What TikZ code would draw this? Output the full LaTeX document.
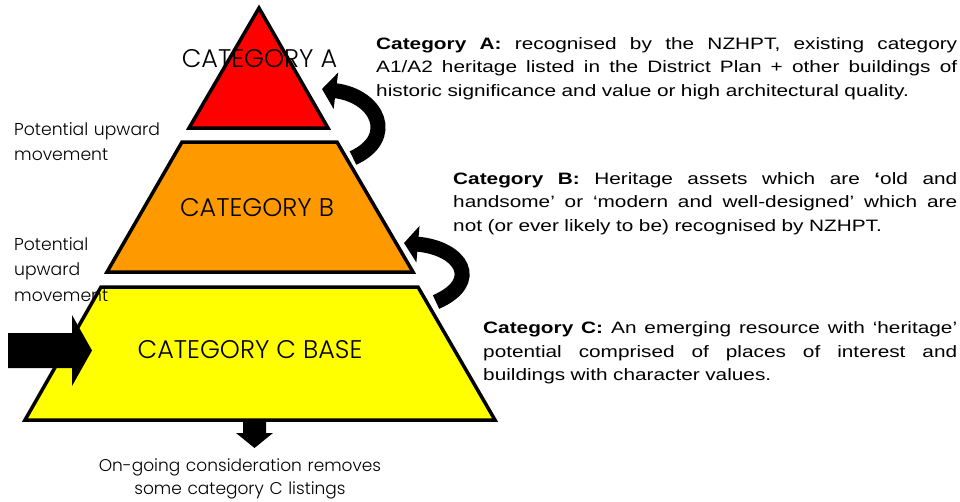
\documentclass[tikz,border=0pt]{standalone}
\usepackage{fontspec}
\setmainfont{Liberation Sans}[FakeStretch=1.26]
\newfontfamily\geofont{Poppins Light}
\usetikzlibrary{arrows.meta}
\definecolor{tierA}{HTML}{FF0000}
\definecolor{tierB}{HTML}{FF9900}
\definecolor{tierC}{HTML}{FFFF00}
% one justified line of a description, stretched to the given width
\newcommand{\fullline}[2]{\makebox[#1][s]{\spaceskip=0pt\xspaceskip=0pt #2}}
\begin{document}
\begin{tikzpicture}[x=1pt,y=-1pt,
  tier/.style={draw=black, line width=3.5pt, line join=miter},
  tiertitle/.style={font=\geofont\fontsize{25.5}{30}\selectfont, anchor=base, inner sep=0pt},
  sidenote/.style={font=\geofont\fontsize{17.2}{25.5}\selectfont, anchor=base west, inner sep=0pt, text width=220pt, align=left},
  desc/.style={font=\fontsize{16.5}{23.5}\selectfont, anchor=base west, inner sep=0pt, align=left},
  curlarrow/.style={line width=15pt, -{Triangle[width=36pt,length=14pt]}},
  blockarrow/.style={fill=black, draw=none}
]
\useasboundingbox (0,0) rectangle (960,501);

% the three tiers of the pyramid
\draw[tier, fill=tierA] (259,8) -- (328,128) -- (189,128) -- cycle;
\draw[tier, fill=tierB] (182,142) -- (337,142) -- (413,272) -- (107,272) -- cycle;
\draw[tier, fill=tierC] (101,287) -- (418,287) -- (495,420) -- (25,420) -- cycle;

\node[tiertitle] (titleA) at (259.5,67) {CATEGORY A};
\node[tiertitle] (titleB) at (257,216) {CATEGORY B};
\node[tiertitle] (titleC) at (250,358) {CATEGORY C BASE};

% side notes
\node[sidenote] (upAB) at (14,135) {Potential upward\\movement};
\node[sidenote] (upBC) at (14,250) {Potential\\upward\\movement};

% end points of the upward arrows
\coordinate (fromB) at (353,158);
\coordinate (toA) at (322,89);
\coordinate (fromC) at (436,302);
\coordinate (toB) at (404,243);

\draw[curlarrow] (fromB) .. controls (397,138) and (378,96) .. (toA);
\draw[curlarrow] (fromC) .. controls (482,282) and (462,248) .. (toB);

% entry arrow into the base
\fill[blockarrow] (8,333) -- (72,333) -- (72,315) -- (92,350.5) -- (72,386) -- (72,368) -- (8,368) -- cycle;

% removal arrow below the base
\coordinate (baseOut) at (254.5,420);
\fill[blockarrow] (243,420) -- (266,420) -- (266,433) -- (273,433) -- (254.5,448) -- (236,433) -- (243,433) -- cycle;
\node[font=\geofont\fontsize{17}{23}\selectfont, anchor=base, inner sep=0pt, text width=320pt, align=center] (removal) at (240,471)
  {On-going consideration removes\\some category C listings};

% category descriptions
\node[desc, text width=581pt] (descA) at (376,49)
  {\fullline{581pt}{\textbf{Category A:} recognised by the NZHPT, existing category}\\
   \fullline{581pt}{A1/A2 heritage listed in the District Plan + other buildings of}\\
   historic significance and value or high architectural quality.};
\node[desc, text width=504pt] (descB) at (453,184)
  {\fullline{504pt}{\textbf{Category B:} Heritage assets which are \textbf{‘}old and}\\
   \fullline{504pt}{handsome’ or ‘modern and well-designed’ which are}\\
   not (or ever likely to be) recognised by NZHPT.};
\node[desc, text width=474pt] (descC) at (483,333.5)
  {\fullline{474pt}{\textbf{Category C:} An emerging resource with ‘heritage’}\\
   \fullline{474pt}{potential comprised of places of interest and}\\
   buildings with character values.};
\end{tikzpicture}
\end{document}
